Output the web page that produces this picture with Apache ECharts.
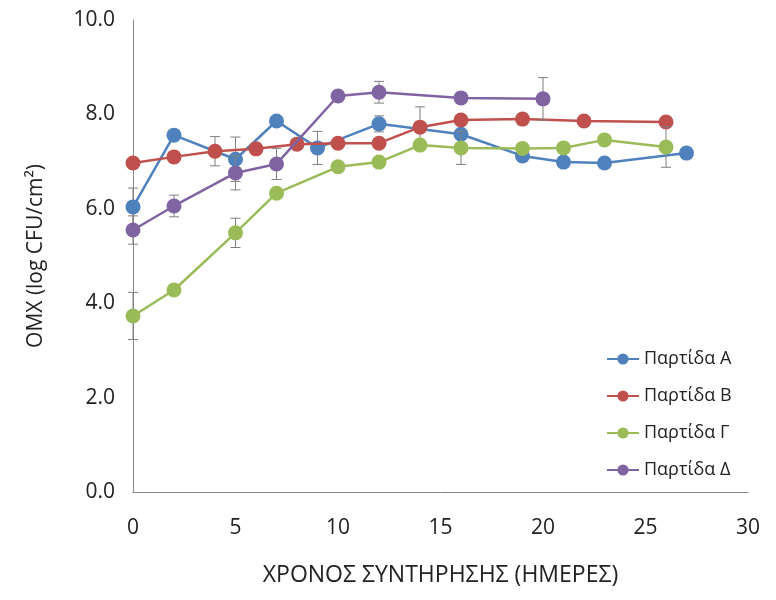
<!DOCTYPE html>
<html>
<head>
<meta charset="utf-8">
<script src="https://cdn.jsdelivr.net/npm/echarts@6/dist/echarts.min.js"></script>
<style>
  html, body { margin: 0; padding: 0; background: #fff; }
  #chart { width: 776px; height: 600px; }
</style>
</head>
<body>
<div id="chart"></div>
<script>
// Παρτίδα Α
const daysA = [0, 2, 5, 7, 9, 12, 16, 19, 21, 23, 27];
const valsA = [6.04, 7.56, 7.05, 7.86, 7.29, 7.80, 7.58, 7.12, 6.99, 6.97, 7.18];
const errA = [0.4, null, 0.47, null, 0.35, 0.17, null, null, null, null, null];
// Παρτίδα Β
const daysB = [0, 2, 4, 6, 8, 10, 12, 14, 16, 19, 22, 26];
const valsB = [6.97, 7.10, 7.22, 7.27, 7.37, 7.39, 7.39, 7.73, 7.88, 7.90, 7.86, 7.84];
const errB = [null, null, 0.31, null, null, null, null, 0.43, null, null, null, null];
// Παρτίδα Γ
const daysC = [0, 2, 5, 7, 10, 12, 14, 16, 19, 21, 23, 26];
const valsC = [3.73, 4.28, 5.49, 6.33, 6.89, 6.99, 7.35, 7.29, 7.28, 7.29, 7.46, 7.31];
const errC = [0.5, null, 0.31, null, null, null, null, 0.35, null, null, null, 0.43];
// Παρτίδα Δ
const daysD = [0, 2, 5, 7, 10, 12, 16, 20];
const valsD = [5.55, 6.06, 6.76, 6.95, 8.39, 8.47, 8.35, 8.33];
const errD = [0.3, 0.23, 0.36, 0.33, 0.1, 0.23, null, 0.45];

const names = ["Παρτίδα Α", "Παρτίδα Β", "Παρτίδα Γ", "Παρτίδα Δ"];
const colors = ["#4F81BD", "#C0504D", "#9BBB59", "#8064A2"];

const groups = [
  [daysA, valsA, errA],
  [daysB, valsB, errB],
  [daysC, valsC, errC],
  [daysD, valsD, errD],
];

const font = "'Open Sans', 'Noto Sans', sans-serif";

function errorRender(params, api) {
  const x = api.value(0);
  const lo = api.coord([x, api.value(1)]);
  const hi = api.coord([x, api.value(2)]);
  const cap = 5;
  const style = { stroke: "#7f7f7f", lineWidth: 1 };
  return {
    type: "group",
    children: [
      { type: "line", shape: { x1: lo[0], y1: lo[1], x2: hi[0], y2: hi[1] }, style: style },
      { type: "line", shape: { x1: lo[0] - cap, y1: lo[1], x2: lo[0] + cap, y2: lo[1] }, style: style },
      { type: "line", shape: { x1: hi[0] - cap, y1: hi[1], x2: hi[0] + cap, y2: hi[1] }, style: style },
    ],
  };
}

let series = [];
groups.forEach((g, i) => {
  const [days, vals, errs] = g;
  series.push({
    name: names[i],
    type: "line",
    data: days.map((d, k) => [d, vals[k]]),
    symbol: "circle",
    symbolSize: 15,
    color: colors[i],
    lineStyle: { width: 2.5, color: colors[i] },
    itemStyle: { color: colors[i] },
    z: 3 + i,
    animation: false,
  });
  series.push({
    name: names[i] + "_err",
    type: "custom",
    renderItem: errorRender,
    data: days
      .map((d, k) => (errs[k] == null ? null : [d, vals[k] - errs[k], vals[k] + errs[k]]))
      .filter((v) => v),
    z: 3 + i,
    silent: true,
    animation: false,
  });
});

const myChart = echarts.init(document.getElementById("chart"));
let option = {
  backgroundColor: "#fff",
  grid: { left: 133, right: 28, top: 20, bottom: 108 },
  legend: {
    data: names,
    orient: "vertical",
    left: 601,
    top: 345,
    itemGap: 19,
    itemWidth: 32,
    itemHeight: 14,
    textStyle: { fontFamily: font, fontSize: 18, color: "#222" },
  },
  xAxis: {
    type: "value",
    min: 0,
    max: 30,
    interval: 5,
    name: "ΧΡΟΝΟΣ ΣΥΝΤΗΡΗΣΗΣ (ΗΜΕΡΕΣ)",
    nameLocation: "middle",
    nameGap: 72,
    nameTextStyle: { fontFamily: font, fontSize: 23, color: "#222" },
    axisLine: { lineStyle: { color: "#888", width: 1 } },
    axisTick: { show: false },
    splitLine: { show: false },
    axisLabel: {
      fontFamily: font,
      fontSize: 21,
      color: "#222",
      margin: 26,
    },
  },
  yAxis: {
    type: "value",
    min: 0,
    max: 10,
    interval: 2,
    name: "ΟΜΧ (log CFU/cm²)",
    nameLocation: "middle",
    nameGap: 86,
    nameTextStyle: { fontFamily: font, fontSize: 21, color: "#222" },
    axisLine: { show: true, lineStyle: { color: "#888", width: 1 } },
    axisTick: { show: false },
    splitLine: { show: false },
    axisLabel: {
      fontFamily: font,
      fontSize: 21,
      color: "#222",
      margin: 18,
      formatter: (v) => v.toFixed(1),
    },
  },
  series: series,
};

option && myChart.setOption(option);
</script>
</body>
</html>
